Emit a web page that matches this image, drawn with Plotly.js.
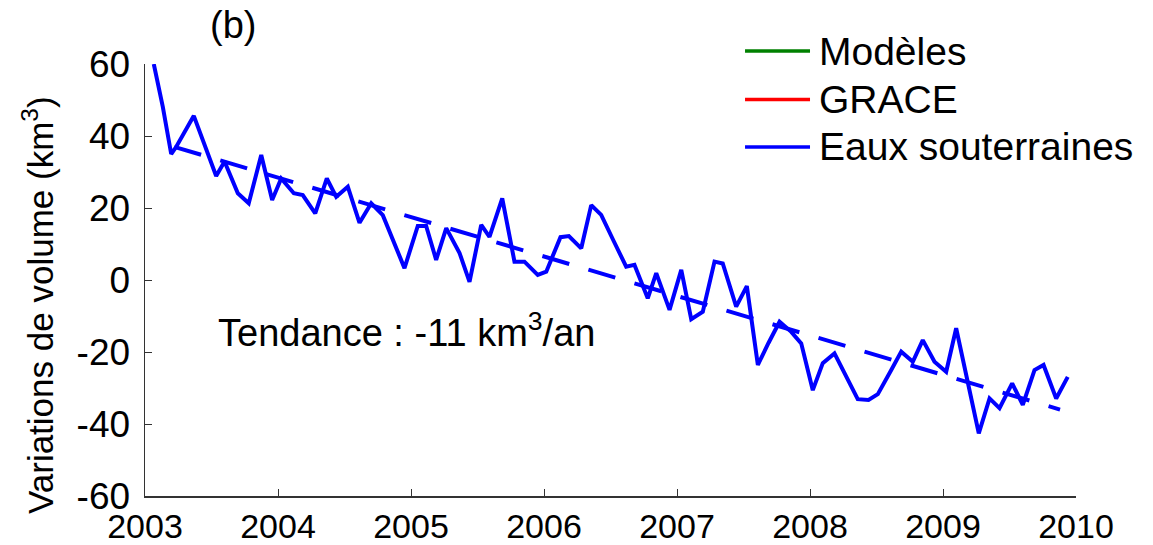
<!DOCTYPE html>
<html>
<head>
<meta charset="utf-8">
<script src="https://cdn.plot.ly/plotly-3.0.1.min.js"></script>
<style>html,body{margin:0;padding:0;background:#fff;}#chart{width:1153px;height:545px;}</style>
</head>
<body>
<div id="chart"></div>
<script>
const years = [
  2003.066, 2003.134, 2003.197, 2003.235, 2003.367, 2003.535, 2003.598, 2003.698, 2003.780, 2003.874, 2003.956,
  2004.024, 2004.119, 2004.186, 2004.280, 2004.367, 2004.438, 2004.525, 2004.613, 2004.701, 2004.788, 2004.868, 2004.951,
  2005.051, 2005.114, 2005.189, 2005.265, 2005.365, 2005.440, 2005.528, 2005.590, 2005.686, 2005.778, 2005.853, 2005.953,
  2006.017, 2006.124, 2006.187, 2006.280, 2006.355, 2006.430, 2006.523, 2006.618, 2006.680, 2006.780, 2006.844, 2006.944,
  2007.032, 2007.107, 2007.194, 2007.282, 2007.344, 2007.445, 2007.525, 2007.608, 2007.688, 2007.771, 2007.859, 2007.934,
  2008.021, 2008.096, 2008.184, 2008.267, 2008.359, 2008.440, 2008.510, 2008.611, 2008.686, 2008.773, 2008.848, 2008.936,
  2009.024, 2009.099, 2009.184, 2009.269, 2009.350, 2009.425, 2009.520, 2009.600, 2009.688, 2009.756, 2009.851, 2009.938
];
// Groundwater volume variations (km3)
const eauxSouterraines = [
  60, 48.1, 35, 37, 45.6, 28.9, 32.9, 24.1, 21.3, 34.7, 22.2,
  28.2, 24.1, 23.6, 18.5, 28.2, 23.1, 25.9, 15.9, 21.3, 18, 11.1, 3.3,
  15, 15, 5.6, 14.4, 7.5, -0.5, 15.3, 12, 22.7, 5.1, 5.1, 1.4,
  2.3, 11.9, 12.2, 8.8, 20.8, 18.1, 10.9, 3.7, 4.2, -5.1, 1.9, -8.3,
  2.8, -10.9, -8.8, 5.1, 4.6, -7.4, -1.7, -23.6, -17.5, -11.6, -14.4, -17.6,
  -30.6, -23.1, -20.4, -26.7, -33.1, -33.3, -31.7, -25, -19.9, -22.7, -16.7, -22.7,
  -25.5, -13.4, -28, -42.6, -32.9, -35.6, -28.7, -34.7, -25, -23.6, -32.9, -26.9
];
// Linear trend (-11 km3/an)
const trendYears = [2003.22, 2009.88];
const trendValues = [37, -36];

const yTicks = [-60, -40, -20, 0, 20, 40, 60];
const xTicks = [2003, 2004, 2005, 2006, 2007, 2008, 2009, 2010];

const legendNames = ['Modèles', 'GRACE', 'Eaux souterraines'];
const legendColors = ['#008000', '#FF0000', '#0000FF'];

const FONT = 'Liberation Sans, Arial, sans-serif';

const traces = [
  {x: [], y: [], type: 'scatter', mode: 'lines', name: legendNames[0], line: {color: legendColors[0], width: 4}, showlegend: false},
  {x: [], y: [], type: 'scatter', mode: 'lines', name: legendNames[1], line: {color: legendColors[1], width: 4}, showlegend: false},
  {x: years, y: eauxSouterraines, type: 'scatter', mode: 'lines', name: legendNames[2],
   line: {color: legendColors[2], width: 4}, showlegend: false},
  {x: trendYears, y: trendValues, type: 'scatter', mode: 'lines', name: 'Tendance',
   line: {color: '#0000FF', width: 4, dash: '28px,20px'}, showlegend: false}
];

// manual legend (long line samples as in the original)
const legY = [1.03, 0.918, 0.808];
const shapes = [];
const annotations = [];
legendNames.forEach((n, i) => {
  shapes.push({type: 'line', xref: 'paper', yref: 'paper', x0: 0.6445, x1: 0.7143, y0: legY[i], y1: legY[i],
    line: {color: legendColors[i], width: 3.5}});
  annotations.push({xref: 'paper', yref: 'paper', x: 0.722, y: legY[i], xanchor: 'left', yanchor: 'middle',
    text: n, showarrow: false, font: {family: FONT, size: 39, color: '#000'}});
});
annotations.push({xref: 'paper', yref: 'paper', x: 0.0945, y: 1.09, xanchor: 'center', yanchor: 'middle',
  text: '(b)', showarrow: false, font: {family: FONT, size: 38, color: '#000'}});
annotations.push({xref: 'paper', yref: 'paper', x: 0.076, y: 0.384, xanchor: 'left', yanchor: 'middle',
  text: 'Tendance : -11 km<sup>3</sup>/an', showarrow: false, font: {family: FONT, size: 38, color: '#000'}});
// y-axis title (placed as in the original, slightly below the axis centre)
annotations.push({xref: 'paper', yref: 'paper', x: -0.115, y: 0.442, xanchor: 'center', yanchor: 'middle',
  textangle: -90, text: 'Variations de volume (km<sup>3</sup>)', showarrow: false,
  font: {family: FONT, size: 35, color: '#000'}});

const layout = {
  width: 1153, height: 545,
  margin: {l: 145, r: 77, t: 64, b: 49},
  paper_bgcolor: '#fff', plot_bgcolor: '#fff',
  font: {family: FONT, size: 38, color: '#000'},
  showlegend: false,
  xaxis: {
    range: [2003, 2010], tickvals: xTicks, ticktext: xTicks.map(String),
    ticks: 'inside', ticklen: 7, tickcolor: '#333', showline: true, linecolor: '#333', linewidth: 1.5,
    showgrid: false, zeroline: false, ticklabelstandoff: 0, tickfont: {family: FONT, size: 34}
  },
  yaxis: {
    range: [-60, 60], tickvals: yTicks, ticktext: yTicks.map(String),
    ticks: 'inside', ticklen: 7, tickcolor: '#333', showline: true, linecolor: '#333', linewidth: 1.5,
    showgrid: false, zeroline: false, ticklabelstandoff: 6, tickfont: {family: FONT, size: 37}
  },
  shapes: shapes,
  annotations: annotations
};

Plotly.newPlot('chart', traces, layout, {displayModeBar: false, staticPlot: true});
</script>
</body>
</html>
